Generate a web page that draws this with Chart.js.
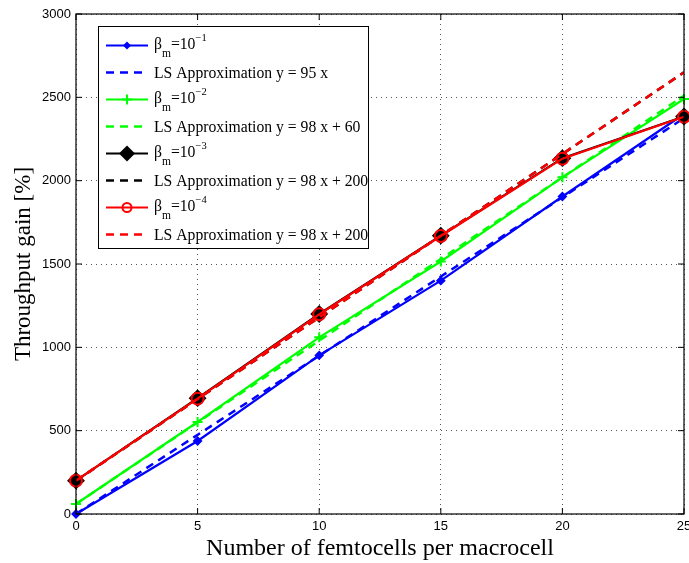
<!DOCTYPE html>
<html>
<head>
<meta charset="utf-8">
<script src="https://cdn.jsdelivr.net/npm/chart.js@4.4.0/dist/chart.umd.min.js"></script>
<style>
  html, body { margin: 0; padding: 0; background: #fff; }
  #wrap { width: 689px; height: 563px; }
</style>
</head>
<body>
<div id="wrap"><canvas id="chart"></canvas></div>
<script>
// femtocells per macrocell
const xValues = [0, 5, 10, 15, 20, 25];

// simulated throughput gain [%]
const beta1 = [0, 438, 952, 1400, 1905, 2400];
const beta2 = [60, 552, 1060, 1515, 2020, 2490];
const beta3 = [200, 695, 1200, 1670, 2135, 2385];
const beta4 = [200, 692, 1198, 1668, 2132, 2383];

// least squares fits
const ls1 = [0, 2375];
const ls2 = [60, 2510];
const ls3 = [200, 2650];
const ls4 = [200, 2650];
const lsX = [0, 25];

const xTicks = [0, 5, 10, 15, 20, 25];
const yTicks = [0, 500, 1000, 1500, 2000, 2500, 3000];

const legendItems = [
  { exp: '\u22121', color: '#0000ff', dash: false, marker: 'smalldiamond' },
  { text: 'LS Approximation y = 95 x', color: '#0000ff', dash: true },
  { exp: '\u22122', color: '#00ff00', dash: false, marker: 'plus' },
  { text: 'LS Approximation y = 98 x + 60', color: '#00ff00', dash: true },
  { exp: '\u22123', color: '#000000', dash: false, marker: 'diamond' },
  { text: 'LS Approximation y = 98 x + 200', color: '#000000', dash: true },
  { exp: '\u22124', color: '#ff0000', dash: false, marker: 'circle' },
  { text: 'LS Approximation y = 98 x + 200', color: '#ff0000', dash: true }
];

function pts(xs, ys) {
  return xs.map((x, i) => ({ x: x, y: ys[i] }));
}

function solid(data, color, style, radius, order, extra) {
  return Object.assign({
    data: pts(xValues, data),
    order: order,
    clip: false,
    borderColor: color,
    backgroundColor: color,
    borderWidth: 2.2,
    pointStyle: style,
    pointRadius: radius,
    pointBorderColor: color,
    pointBackgroundColor: color,
    pointBorderWidth: 2,
    fill: false,
    tension: 0
  }, extra || {});
}

function dashed(data, color, order) {
  return {
    data: pts(lsX, data),
    order: order,
    borderColor: color,
    borderWidth: 2.5,
    borderDash: [8, 6],
    pointRadius: 0,
    fill: false,
    tension: 0
  };
}

// axes box, inward ticks and legend
const matlabLook = {
  id: 'matlabLook',
  afterDraw(chart) {
    const ctx = chart.ctx;
    const a = chart.chartArea;
    const xs = chart.scales.x, ys = chart.scales.y;
    ctx.save();
    ctx.strokeStyle = '#000';
    ctx.lineWidth = 1.2;
    ctx.setLineDash([]);
    ctx.strokeRect(a.left, a.top, a.right - a.left, a.bottom - a.top);
    ctx.lineWidth = 1;
    xTicks.forEach(v => {
      const px = xs.getPixelForValue(v);
      ctx.beginPath();
      ctx.moveTo(px, a.bottom); ctx.lineTo(px, a.bottom - 6);
      ctx.moveTo(px, a.top); ctx.lineTo(px, a.top + 6);
      ctx.stroke();
    });
    yTicks.forEach(v => {
      const py = ys.getPixelForValue(v);
      ctx.beginPath();
      ctx.moveTo(a.left, py); ctx.lineTo(a.left + 6, py);
      ctx.moveTo(a.right, py); ctx.lineTo(a.right - 6, py);
      ctx.stroke();
    });

    // legend box
    const bx = 98, by = 26, bw = 270, bh = 222;
    ctx.fillStyle = '#fff';
    ctx.fillRect(bx, by, bw, bh);
    ctx.strokeStyle = '#000';
    ctx.lineWidth = 1;
    ctx.strokeRect(bx + 0.5, by + 0.5, bw, bh);

    const rowH = 27;
    legendItems.forEach((it, i) => {
      const cy = by + 19.5 + i * rowH;
      ctx.strokeStyle = it.color;
      ctx.lineWidth = it.dash ? 2.5 : 2.2;
      ctx.setLineDash(it.dash ? [8, 6] : []);
      ctx.beginPath();
      ctx.moveTo(106, cy); ctx.lineTo(148, cy);
      ctx.stroke();
      ctx.setLineDash([]);
      const mx = 127;
      ctx.fillStyle = it.color;
      if (it.marker === 'smalldiamond') {
        ctx.beginPath();
        ctx.moveTo(mx, cy - 4); ctx.lineTo(mx + 4, cy); ctx.lineTo(mx, cy + 4); ctx.lineTo(mx - 4, cy);
        ctx.closePath(); ctx.fill();
      } else if (it.marker === 'plus') {
        ctx.lineWidth = 2;
        ctx.beginPath();
        ctx.moveTo(mx - 5, cy); ctx.lineTo(mx + 5, cy);
        ctx.moveTo(mx, cy - 5); ctx.lineTo(mx, cy + 5);
        ctx.stroke();
      } else if (it.marker === 'diamond') {
        ctx.beginPath();
        ctx.moveTo(mx, cy - 8); ctx.lineTo(mx + 8, cy); ctx.lineTo(mx, cy + 8); ctx.lineTo(mx - 8, cy);
        ctx.closePath(); ctx.fill();
      } else if (it.marker === 'circle') {
        ctx.lineWidth = 2;
        ctx.beginPath();
        ctx.arc(mx, cy, 4.5, 0, Math.PI * 2);
        ctx.stroke();
      }
      ctx.fillStyle = '#000';
      ctx.textBaseline = 'middle';
      ctx.textAlign = 'left';
      if (it.text) {
        ctx.font = '15.7px "Liberation Serif", "Times New Roman", serif';
        ctx.fillText(it.text, 154, cy + 1);
      } else {
        let x = 154;
        ctx.font = '15.7px "Liberation Serif", serif';
        ctx.fillText('\u03b2', x, cy - 1);
        x += ctx.measureText('\u03b2').width;
        ctx.font = '11.5px "Liberation Serif", serif';
        ctx.fillText('m', x, cy + 8);
        x += ctx.measureText('m').width;
        ctx.font = '15.7px "Liberation Serif", serif';
        ctx.fillText('=10', x, cy - 1);
        x += ctx.measureText('=10').width;
        ctx.font = '10.5px "Liberation Serif", serif';
        ctx.fillText(it.exp, x, cy - 7);
      }
    });
    ctx.restore();
  }
};

new Chart(document.getElementById('chart'), {
  type: 'line',
  data: {
    datasets: [
      solid(beta1, '#0000ff', 'rectRot', 3.5, 8),
      dashed(ls1, '#0000ff', 7),
      solid(beta2, '#00ff00', 'cross', 5, 6),
      dashed(ls2, '#00ff00', 5),
      solid(beta3, '#000000', 'rectRot', 7.5, 4),
      dashed(ls3, '#000000', 3),
      solid(beta4, '#ff0000', 'circle', 6, 2, { pointBackgroundColor: 'rgba(0,0,0,0)' }),
      dashed(ls4, '#ff0000', 1)
    ]
  },
  options: {
    responsive: true,
    maintainAspectRatio: false,
    animation: false,
    layout: { autoPadding: false, padding: { top: 14, right: 5, left: 0, bottom: 0 } },
    plugins: {
      legend: { display: false },
      tooltip: { enabled: false }
    },
    scales: {
      x: {
        type: 'linear',
        min: 0,
        max: 25,
        afterBuildTicks: s => { s.ticks = xTicks.map(v => ({ value: v })); },
        ticks: {
          color: '#000',
          padding: 5,
          callback: v => String(v),
          font: { family: '"Liberation Sans", Arial, sans-serif', size: 13 }
        },
        grid: { color: '#555', lineWidth: 1, drawTicks: false },
        border: { display: false, dash: [1, 4] },
        title: {
          display: true,
          text: 'Number of femtocells per macrocell',
          color: '#000',
          padding: { top: 0, bottom: 0 },
          font: { family: '"Liberation Serif", "Times New Roman", serif', size: 24 }
        },
        afterFit: s => { s.height = 49; s.paddingLeft = 0; s.paddingRight = 0; }
      },
      y: {
        min: 0,
        max: 3000,
        afterBuildTicks: s => { s.ticks = yTicks.map(v => ({ value: v })); },
        ticks: {
          color: '#000',
          padding: 5,
          callback: v => String(v),
          font: { family: '"Liberation Sans", Arial, sans-serif', size: 13 }
        },
        grid: { color: '#555', lineWidth: 1, drawTicks: false },
        border: { display: false, dash: [1, 4] },
        title: {
          display: true,
          text: 'Throughput gain [%]',
          color: '#000',
          padding: { top: 10, bottom: 0 },
          font: { family: '"Liberation Serif", "Times New Roman", serif', size: 23 }
        },
        afterFit: s => { s.width = 76; s.paddingTop = 0; s.paddingBottom = 0; }
      }
    }
  },
  plugins: [matlabLook]
});
</script>
</body>
</html>
